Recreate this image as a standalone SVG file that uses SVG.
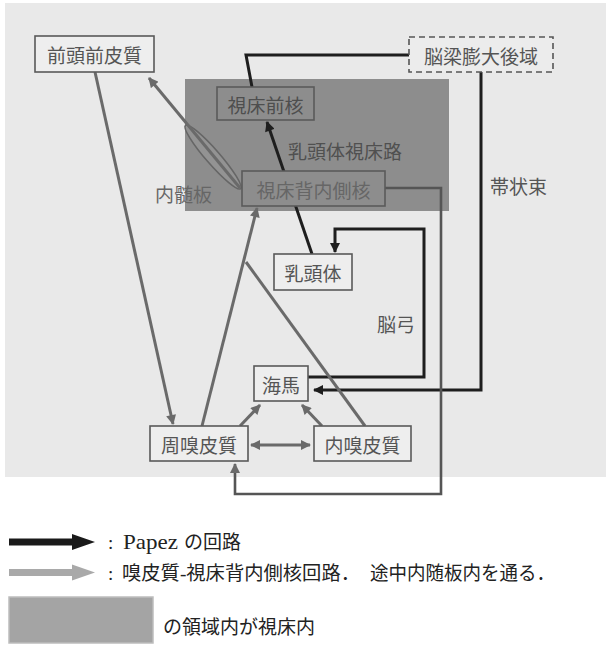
<svg xmlns="http://www.w3.org/2000/svg" width="606" height="646" viewBox="0 0 606 646">
<style>
.lbl{font-family:"Noto Sans CJK JP","Noto Sans",sans-serif;font-size:19px;fill:#555;text-anchor:middle;dominant-baseline:central}
.free{font-family:"Noto Sans CJK JP","Noto Sans",sans-serif;font-size:19px;fill:#555;dominant-baseline:central}
.box{fill:#eeeeee;stroke:#595959;stroke-width:1.6}
.tbox{fill:#8d8d8d;stroke:#5a5a5a;stroke-width:1.6}
.blk{fill:none;stroke:#1e1e1e;stroke-width:3}
.gry{fill:none;stroke:#6a6a6a;stroke-width:3}
.leg{font-family:"Liberation Serif","Noto Sans CJK JP",serif;font-size:19px;fill:#222;dominant-baseline:central}
</style>
<defs>
<marker id="ab" viewBox="0 0 10 10" refX="9" refY="5" markerWidth="11" markerHeight="10" orient="auto" markerUnits="userSpaceOnUse"><path d="M0,0 L10,5 L0,10 z" fill="#1e1e1e"/></marker>
<marker id="ag" viewBox="0 0 10 10" refX="9" refY="5" markerWidth="11" markerHeight="10" orient="auto-start-reverse" markerUnits="userSpaceOnUse"><path d="M0,0 L10,5 L0,10 z" fill="#6a6a6a"/></marker>
</defs>

<!-- background panels -->
<rect x="0" y="0" width="606" height="646" fill="#ffffff"/>
<rect x="5" y="3" width="601" height="474" fill="#e9e9e9"/>
<rect id="thalamus" x="185" y="79" width="264" height="132" fill="#8d8d8d"/>

<!-- connectors -->
<g id="connectors">
  <ellipse cx="213" cy="157" rx="42" ry="7" transform="rotate(49 213 157)" fill="#939393" stroke="#666" stroke-width="1.6"/>
  <line class="gry" x1="240" y1="188" x2="149" y2="78" marker-end="url(#ag)"/>
  <polyline class="blk" points="409,55 246,55 252,87"/>
  <polyline class="blk" points="481,72 481,390 314,390" marker-end="url(#ab)"/>
  <polyline class="blk" points="308,377 424,377 424,229 335,229 335,252" marker-end="url(#ab)"/>
  <line class="blk" x1="312" y1="254" x2="267" y2="122" marker-end="url(#ab)"/>
  <line class="gry" x1="95" y1="72" x2="173" y2="424" marker-end="url(#ag)"/>
  <line class="gry" x1="202" y1="426" x2="257" y2="208" marker-end="url(#ag)"/>
  <line class="gry" x1="365" y1="426" x2="246" y2="262"/>
  <polyline class="gry" style="stroke:#555;stroke-width:2.6" points="385,188 441,188 441,494 235,494 235,464" marker-end="url(#ag)"/>
  <line class="gry" x1="240" y1="426" x2="260" y2="405" marker-end="url(#ag)"/>
  <line class="gry" x1="322" y1="426" x2="302" y2="405" marker-end="url(#ag)"/>
  <line class="gry" x1="251" y1="445" x2="310" y2="445" marker-start="url(#ag)" marker-end="url(#ag)"/>
</g>

<!-- nodes -->
<g id="n-prefrontal"><rect class="box" x="35" y="36" width="119" height="36"/><text class="lbl" x="94.5" y="54">前頭前皮質</text></g>
<g id="n-retrosplenial"><rect x="409" y="37" width="144" height="35" fill="#ececec" stroke="#555" stroke-width="1.6" stroke-dasharray="6,4"/><text class="lbl" x="481" y="55">脳梁膨大後域</text></g>
<g id="n-anterior"><rect class="tbox" x="217" y="87" width="97" height="33"/><text class="lbl" x="265.5" y="104" style="fill:#4e4e4e">視床前核</text></g>
<g id="n-md"><rect class="tbox" x="242" y="171" width="143" height="35"/><text class="lbl" x="313.5" y="189" style="fill:#666">視床背内側核</text></g>
<g id="n-mammillary"><rect class="box" x="274" y="254" width="78" height="36"/><text class="lbl" x="313" y="272">乳頭体</text></g>
<g id="n-hippo"><rect class="box" x="254" y="366" width="54" height="35"/><text class="lbl" x="281" y="384">海馬</text></g>
<g id="n-perirhinal"><rect class="box" x="150" y="426" width="98" height="35"/><text class="lbl" x="199" y="444">周嗅皮質</text></g>
<g id="n-entorhinal"><rect class="box" x="314" y="426" width="97" height="35"/><text class="lbl" x="362.5" y="444">内嗅皮質</text></g>

<!-- edge labels -->
<g id="labels">
  <text class="free" x="288" y="150" style="fill:#505050">乳頭体視床路</text>
  <text class="free" x="155" y="193" style="fill:#666">内髄板</text>
  <text class="free" x="490" y="185">帯状束</text>
  <text class="free" x="377" y="323">脳弓</text>
</g>

<!-- legend -->
<g id="legend">
  <path d="M9,538.5 H72 V534 L95,542 L72,550 V545.5 H9 z" fill="#1a1a1a"/>
  <text class="leg" x="108" y="542">:</text>
  <text class="leg" x="123" y="542" style="font-size:21px" textLength="55" lengthAdjust="spacingAndGlyphs">Papez</text>
  <text class="leg" x="184" y="542">の回路</text>
  <path d="M9,569 H72 V564.5 L95,572.5 L72,580.5 V576 H9 z" fill="#a9a9a9"/>
  <text class="leg" x="108" y="573">:</text>
  <text class="leg" x="122" y="573" textLength="238" lengthAdjust="spacingAndGlyphs">嗅皮質-視床背内側核回路．</text>
  <text class="leg" x="370" y="573" textLength="185" lengthAdjust="spacingAndGlyphs">途中内随板内を通る．</text>
  <rect x="9" y="597" width="144" height="46" fill="#a4a4a4" stroke="#bdbdbd" stroke-width="1.5"/>
  <text class="leg" x="163" y="627">の領域内が視床内</text>
</g>
</svg>
